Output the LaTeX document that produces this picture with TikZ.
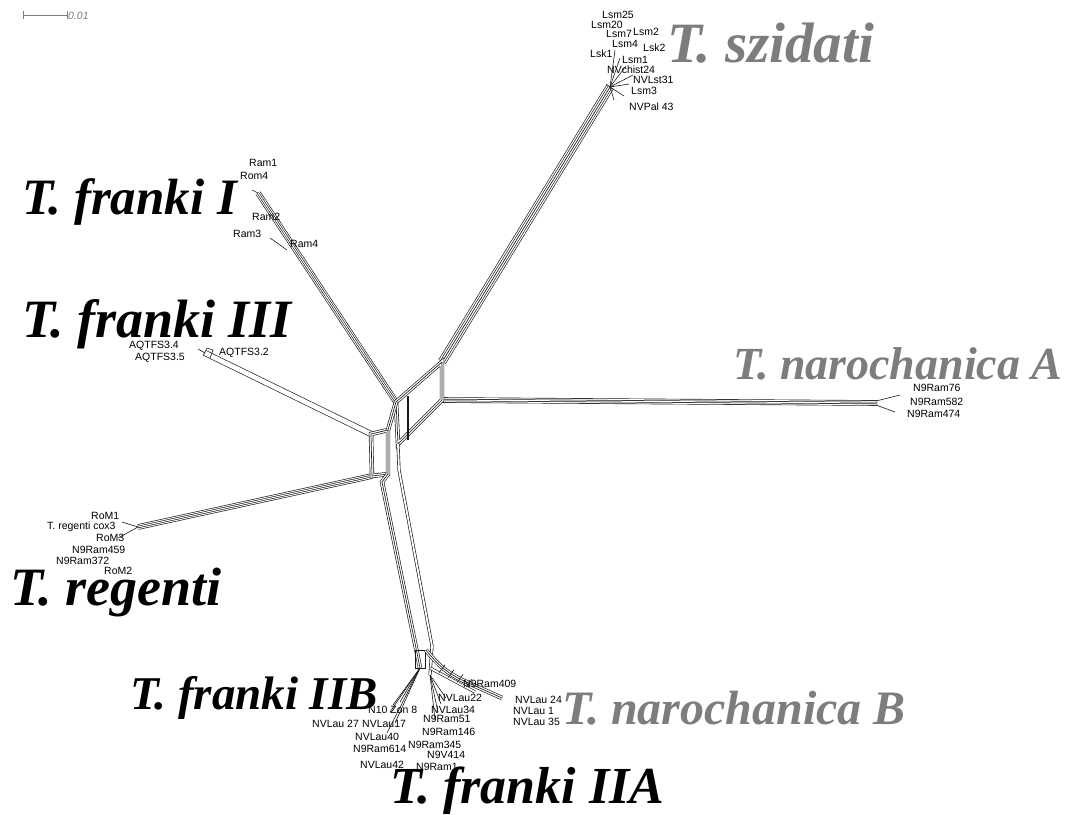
\documentclass[tikz,border=0pt]{standalone}
\usepackage{fontspec}
\setmainfont{Liberation Sans}
\newfontfamily\bigserif{Liberation Serif}
\usetikzlibrary{calc}
\definecolor{labgray}{RGB}{125,125,125}
\definecolor{netc}{RGB}{25,25,25}
\tikzset{
  net/.style={draw=netc, line width=0.65pt, line cap=butt, line join=round},
  btwo/.style={net, line width=3.1pt, postaction={draw=white, line width=1.8pt}},
  btwowide/.style={net, line width=6pt, postaction={draw=white, line width=4.7pt}},
  bthree/.style={net, preaction={draw=netc, line width=4.4pt}, preaction={draw=white, line width=3.1pt}},
  bfour/.style={net, line width=2.3pt, preaction={draw=netc, line width=5.6pt}, preaction={draw=white, line width=4.3pt}, postaction={draw=white, line width=1pt}},
  bfive/.style={net, preaction={draw=netc, line width=8.4pt}, preaction={draw=white, line width=7.1pt}, preaction={draw=netc, line width=4.6pt}, preaction={draw=white, line width=3.3pt}},
  fan/.style={draw=netc, line width=0.6pt},
  lab/.style={font=\fontsize{10.5}{11}\selectfont, inner sep=0pt, anchor=west},
  big/.style={font=\bigserif\bfseries\itshape\fontsize{#1}{#1}\selectfont, inner sep=0pt, anchor=base west, text height=0.66*#1pt, text depth=0pt},
  biggray/.style={big=#1, text=labgray}
}
\begin{document}
\begin{tikzpicture}[x=1pt,y=-1pt]
\useasboundingbox[fill=white] (0,0) rectangle (1070,814);

% scale bar
\coordinate (sb1) at (23,15);
\coordinate (sb2) at (67,15);
\draw[labgray, line width=0.7pt] (sb1) -- (sb2);
\draw[labgray, line width=0.7pt] ($(sb1)+(0,-4)$) -- ($(sb1)+(0,4)$);
\draw[labgray, line width=0.7pt] ($(sb2)+(0,-4)$) -- ($(sb2)+(0,4)$);
\node[lab, text=labgray, font=\fontsize{10.5}{11}\selectfont\itshape] (sbl) at (68,16) {0.01};

% junction points
\coordinate (A) at (396,402);
\coordinate (B) at (442,362);
\coordinate (C) at (442,400);
\coordinate (D) at (398,444);
\coordinate (Ltl) at (371,434);
\coordinate (Ltr) at (388,430);
\coordinate (Lbl) at (372,476);
\coordinate (Lbr) at (388,474);
% tips
\coordinate (Tsz) at (610,87);
\coordinate (Tf1) at (258,193);
\coordinate (Tf3) at (205,353);
\coordinate (Tna) at (877,403);
\coordinate (Tre) at (138,527);
\coordinate (Ttl) at (382,482);
\coordinate (Tbl) at (418,658);
\coordinate (Ttr) at (399,470);
\coordinate (Tbr) at (432,646);

% branches
\draw[bfive] (B) -- (Tsz);
\draw[bfour] (Tf1) -- (A);
\draw[btwowide] (Tf3) -- (Ltl);
\draw[bfour] (C) -- (Tna);
\draw[bfour] (Tre) -- (Lbl);
\draw[bthree] (A) -- (B) -- (C) -- (D) -- cycle;
\draw[bthree] (Ltl) -- (Ltr) -- (Lbr) -- (Lbl) -- cycle;
\draw[bthree] (Ltr) -- (A);
\draw[bthree] (Lbr) -- (Ttl) -- (Tbl);
\draw[btwo] (D) -- (Ttr) -- (Tbr);
\draw[netc, line width=1.3pt] (408,396) -- (408,440);

% szidati fan
\foreach \p in {(615,50),(620,58),(626,66),(633,75),(629,84),(624,96),(614,100),(606,84)}
  \draw[fan] (Tsz) -- \p;
% franki I fan
\draw[fan] (Tf1) -- (252,190);
\draw[fan] (270,238) -- (287,250);
% franki III tip
\draw[fan] (Tf3) -- (198,349);
\draw[fan] (203,356) -- (207,348) -- (213,350) -- (210,358);
% narochanica A fan
\draw[fan] (876,401) -- (900,395);
\draw[fan] (876,405) -- (895,412);
% regenti fan
\draw[fan] (Tre) -- (122,522);
\draw[fan] (Tre) -- (118,538);
% bottom cluster
\coordinate (Bb) at (420,668);
\draw[bthree] (Tbl) -- (Bb);
\draw[fan] (415,650) -- (425,650) -- (425,668) -- (415,668) -- cycle;
\foreach \p in {(393,705),(390,712),(387,733),(395,723),(400,702)}
  \draw[fan] (Bb) -- \p;
\coordinate (Ba) at (430,675);
\draw[btwo] (Tbr) -- (Ba);
\foreach \p in {(435,720),(438,712),(441,704),(446,698)}
  \draw[fan] (Ba) -- \p;
\coordinate (Nb) at (502,698);
\draw[bthree] (426,650) .. controls (440,668) and (450,674) .. (462,680) -- (Nb);
\draw[btwo] (430,668) -- (475,692);
\foreach \q in {0.2,0.4,0.6,0.8}
  \draw[fan] ($(430,668)!\q!(475,692)$) -- ++(6,-8);

% small labels
\node[lab] (l1) at (602,15) {Lsm25};
\node[lab] (l2) at (591,25) {Lsm20};
\node[lab] (l3) at (606,34) {Lsm7};
\node[lab] (l4) at (633,32) {Lsm2};
\node[lab] (l5) at (612,44) {Lsm4};
\node[lab] (l6) at (643,48) {Lsk2};
\node[lab] (l7) at (590,54) {Lsk1};
\node[lab] (l8) at (622,60) {Lsm1};
\node[lab] (l9) at (607,70) {NVchist24};
\node[lab] (l10) at (633,80) {NVLst31};
\node[lab] (l11) at (631,91) {Lsm3};
\node[lab] (l12) at (629,107) {NVPal 43};

\node[lab] (f1) at (249,163) {Ram1};
\node[lab] (f2) at (240,176) {Rom4};
\node[lab] (f3) at (252,217) {Ram2};
\node[lab] (f4) at (233,234) {Ram3};
\node[lab] (f5) at (290,244) {Ram4};

\node[lab] (g1) at (129,346) {AQTFS3.4};
\node[lab] (g2) at (135,358) {AQTFS3.5};
\node[lab] (g3) at (219,353) {AQTFS3.2};

\node[lab] (n1) at (913,388) {N9Ram76};
\node[lab] (n2) at (910,402) {N9Ram582};
\node[lab] (n3) at (907,414) {N9Ram474};

\node[lab] (r1) at (91,516) {RoM1};
\node[lab] (r2) at (47,527) {T. regenti cox3};
\node[lab] (r3) at (96,538) {RoM3};
\node[lab] (r4) at (72,550) {N9Ram459};
\node[lab] (r5) at (56,561) {N9Ram372};
\node[lab] (r6) at (104,571) {RoM2};

\node[lab] (b1) at (368,710) {N10 Zon 8};
\node[lab] (b2) at (312,724) {NVLau 27};
\node[lab] (b3) at (362,724) {NVLau17};
\node[lab] (b4) at (355,737) {NVLau40};
\node[lab] (b5) at (353,749) {N9Ram614};
\node[lab] (b6) at (360,765) {NVLau42};
\node[lab] (b7) at (408,745) {N9Ram345};
\node[lab] (b8) at (423,719) {N9Ram51};
\node[lab] (b9) at (422,732) {N9Ram146};
\node[lab] (b10) at (431,710) {NVLau34};
\node[lab] (b11) at (438,698) {NVLau22};
\node[lab] (b12) at (463,684) {N9Ram409};
\node[lab] (b13) at (427,755) {N9V414};
\node[lab] (b14) at (416,767) {N9Ram1};
\node[lab] (b15) at (515,700) {NVLau 24};
\node[lab] (b16) at (513,711) {NVLau 1};
\node[lab] (b17) at (513,722) {NVLau 35};

% big labels
\node[biggray=57] (Lsz) at (667,62) {T. szidati};
\node[big=51] (Lf1) at (22,214) {T. franki I};
\node[big=54] (Lf3) at (22,337) {T. franki III};
\node[biggray=46] (Lna) at (733,379) {T. narochanica A};
\node[big=54] (Lre) at (10,605) {T. regenti};
\node[big=47] (Lf2b) at (130,709) {T. franki IIB};
\node[biggray=48] (Lnb) at (562,724) {T. narochanica B};
\node[big=52] (Lf2a) at (390,803) {T. franki IIA};
\end{tikzpicture}
\end{document}
